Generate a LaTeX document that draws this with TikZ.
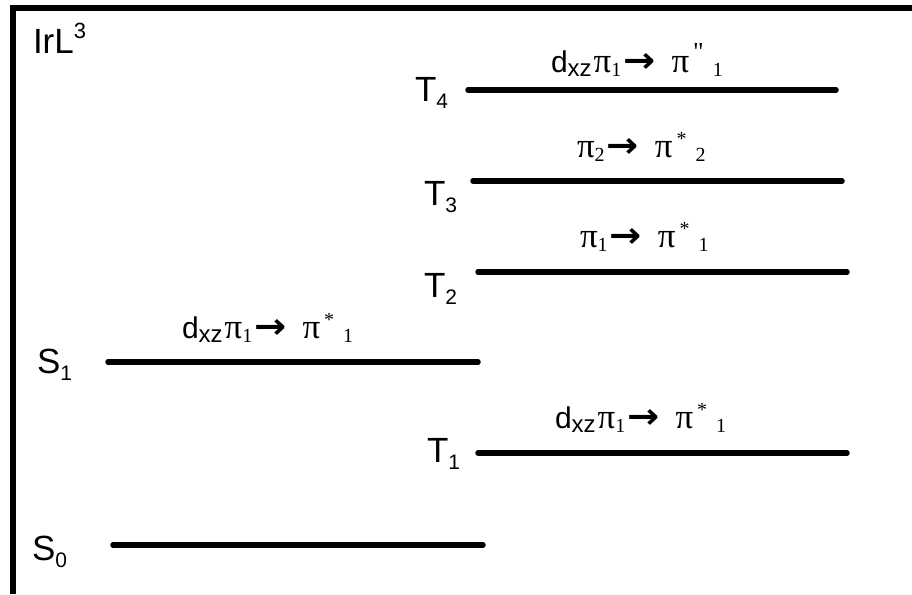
\documentclass[tikz,border=0pt]{standalone}
\usepackage{graphicx}
\usepackage{fontspec}
\setmainfont{Liberation Sans}
\newfontfamily\pifont{Liberation Serif}
\newfontfamily\arrfont{DejaVu Sans}
\newcommand\Lvl[2]{{\fontsize{35}{35}\selectfont #1}\raisebox{-7pt}{\fontsize{21}{21}\selectfont #2}}
\newcommand\Dxz{{\fontsize{30}{30}\selectfont d}\raisebox{-4pt}{\fontsize{24}{24}\selectfont xz}\hspace{2pt}}
\newcommand\Pii[1]{{\pifont\fontsize{35}{35}\selectfont π}\raisebox{-4pt}{\pifont\fontsize{20}{20}\selectfont #1}}
\newcommand\Arr{\hspace{2pt}{\arrfont\bfseries\fontsize{32}{32}\selectfont\scalebox{1.2}[1.1]{→}}}
\newcommand\Pis[3]{{\pifont\fontsize{35}{35}\selectfont π}\hspace{4pt}\raisebox{12pt}{\pifont\fontsize{#3}{#3}\selectfont #1}\raisebox{-4pt}{\pifont\fontsize{20}{20}\selectfont\hspace{9pt}#2}}
\tikzset{
  level/.style={line width=5.5pt, line cap=round},
  frame/.style={line width=6pt},
  txt/.style={anchor=base west, inner sep=0pt, outer sep=0pt},
}
\begin{document}
\begin{tikzpicture}[x=1pt,y=-1pt]
\useasboundingbox (0,0) rectangle (912,594);
\fill[white] (0,0) rectangle (912,594);
% frame
\coordinate (fbl) at (13,594);
\coordinate (ftl) at (13,8);
\coordinate (ftr) at (912,8);
\draw[frame] (fbl) -- (ftl) -- (ftr);
\node[txt] (title) at (33,53) {{\fontsize{35}{35}\selectfont IrL}\raisebox{14pt}{\fontsize{22}{22}\selectfont 3}};
% levels
\coordinate (t4a) at (468,90);  \coordinate (t4b) at (836,90);
\coordinate (t3a) at (473,181); \coordinate (t3b) at (842,181);
\coordinate (t2a) at (478,272); \coordinate (t2b) at (847,272);
\coordinate (s1a) at (108,362); \coordinate (s1b) at (478,362);
\coordinate (t1a) at (478,453); \coordinate (t1b) at (847,453);
\coordinate (s0a) at (113,545); \coordinate (s0b) at (483,545);
\draw[level] (t4a) -- (t4b);
\draw[level] (t3a) -- (t3b);
\draw[level] (t2a) -- (t2b);
\draw[level] (s1a) -- (s1b);
\draw[level] (t1a) -- (t1b);
\draw[level] (s0a) -- (s0b);
% level names
\node[txt] (nT4) at (415,101) {\Lvl{T}{4}};
\node[txt] (nT3) at (424,205) {\Lvl{T}{3}};
\node[txt] (nT2) at (424,297) {\Lvl{T}{2}};
\node[txt] (nS1) at (37,373) {\Lvl{S}{1}};
\node[txt] (nT1) at (427,462) {\Lvl{T}{1}};
\node[txt] (nS0) at (32,560) {\Lvl{S}{0}};
% transitions
\node[txt] (lT4) at (551,72) {\Dxz\Pii{1}\Arr\hspace{16pt}\Pis{\char34}{1}{26}};
\node[txt] (lT3) at (577,157) {\Pii{2}\Arr\hspace{16pt}\Pis{*}{2}{20}};
\node[txt] (lT2) at (580,247) {\Pii{1}\Arr\hspace{16pt}\Pis{*}{1}{20}};
\node[txt] (lS1) at (182,338) {\Dxz\Pii{1}\Arr\hspace{16pt}\Pis{*}{1}{20}};
\node[txt] (lT1) at (555,428) {\Dxz\Pii{1}\Arr\hspace{16pt}\Pis{*}{1}{20}};
\end{tikzpicture}
\end{document}
